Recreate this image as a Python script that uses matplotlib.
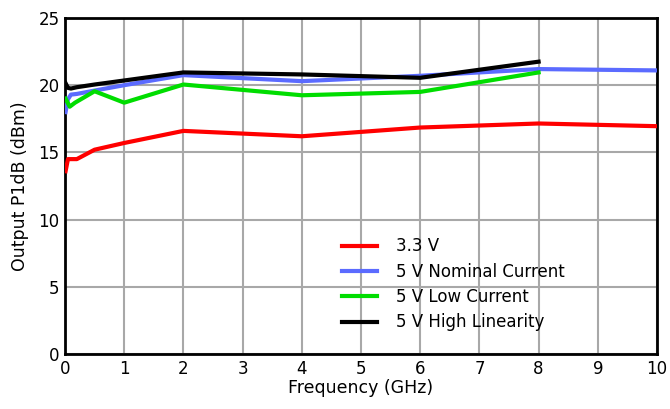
import matplotlib
matplotlib.use("Agg")
import matplotlib.pyplot as plt

freq_red = [0.01, 0.05, 0.1, 0.2, 0.5, 1, 2, 4, 6, 8, 10]
p1db_red = [13.6, 14.5, 14.5, 14.5, 15.2, 15.7, 16.6, 16.2, 16.85, 17.15, 16.95]

freq_blue = [0.01, 0.05, 0.1, 0.2, 0.5, 1, 2, 4, 6, 8, 10]
p1db_blue = [18.0, 18.95, 19.3, 19.35, 19.6, 20.0, 20.75, 20.3, 20.7, 21.2, 21.1]

freq_green = [0.01, 0.08, 0.17, 0.5, 1, 2, 4, 6, 8]
p1db_green = [19.0, 18.4, 18.7, 19.55, 18.7, 20.05, 19.25, 19.5, 20.95]

freq_black = [0.01, 0.05, 0.1, 0.2, 0.5, 1, 2, 4, 6, 8]
p1db_black = [20.15, 19.8, 19.75, 19.85, 20.05, 20.35, 20.95, 20.8, 20.55, 21.75]

labels = ["3.3 V", "5 V Nominal Current", "5 V Low Current", "5 V High Linearity"]
colors = ["#ff0000", "#5b6bff", "#00dd00", "#000000"]

xticks = list(range(0, 11))
yticks = [0, 5, 10, 15, 20, 25]

plt.rcParams['font.family'] = ['DejaVu Sans']
fig = plt.figure(figsize=(6.7, 4.09), dpi=100)
ax = fig.add_axes([0.097, 0.1345, 0.8836, 0.8215])

series = [(freq_red, p1db_red), (freq_blue, p1db_blue), (freq_green, p1db_green), (freq_black, p1db_black)]
for (x, y), lab, c in zip(series, labels, colors):
    ax.plot(x, y, color=c, lw=3, label=lab, solid_joinstyle='round', zorder=3)

ax.set_xlim(0, 10)
ax.set_ylim(0, 25)
ax.set_xticks(xticks)
ax.set_yticks(yticks)
ax.grid(True, color="#a8a8a8", lw=1.5)
ax.tick_params(length=0, labelsize=12, pad=4)
for s in ax.spines.values():
    s.set_linewidth(2)
    s.set_color("black")
ax.set_xlabel("Frequency (GHz)", fontsize=12.5, labelpad=1)
ax.set_ylabel("Output P1dB (dBm)", fontsize=12.5, labelpad=7)

leg = ax.legend(loc="upper left", bbox_to_anchor=(0.457, 0.367), frameon=False, fontsize=12,
                handlelength=2.1, handletextpad=1.14, labelspacing=0.44, borderaxespad=0)

fig.savefig("out.png", dpi=100)
